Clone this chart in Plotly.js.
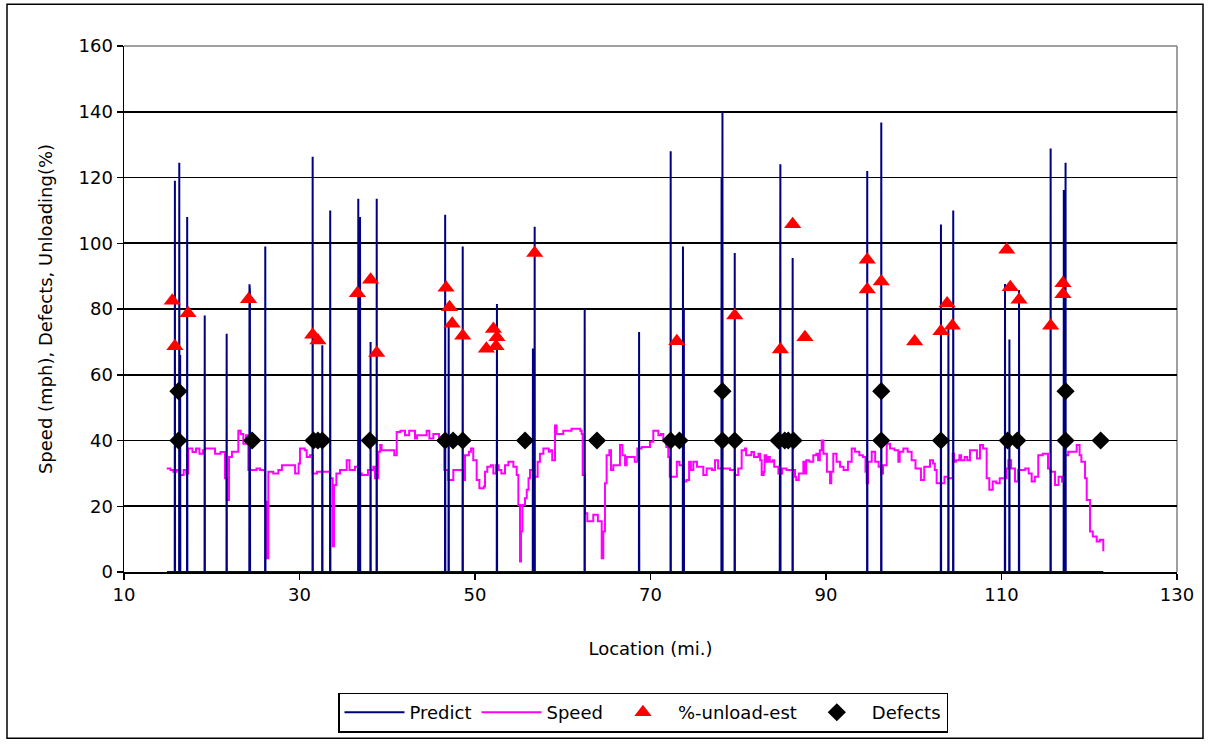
<!DOCTYPE html>
<html>
<head>
<meta charset="utf-8">
<script src="https://cdn.plot.ly/plotly-3.0.1.min.js"></script>
<style>
html,body{margin:0;padding:0;background:#fff;}
#chart{width:1209px;height:744px;}
</style>
</head>
<body>
<div id="chart"></div>
<script>
// ---- Predict spikes (location in miles, predicted value) ----
const predictStart = 14.9;
const predictEnd = 121.6;
const predictLoc = [15.8, 16.3, 16.4, 17.2, 19.2, 21.7, 24.3, 24.35, 26.1, 31.5, 32.6, 33.5, 36.7, 36.9, 38.1, 38.8,
  46.6, 47.0, 48.6, 52.5, 56.6, 56.8, 62.5, 68.7, 72.3, 73.7, 73.8, 78.1, 78.15, 78.2, 79.6, 84.75, 84.8, 86.2,
  94.7, 96.3, 103.1, 103.95, 104.5, 110.4, 110.9, 112.0, 115.6, 117.1, 117.3];
const predictVal = [119, 124.5, 66, 108, 78, 72.5, 87.5, 85.5, 99, 126.3, 69, 110, 113.5, 108, 70, 113.5,
  108.7, 76, 99, 81.5, 68, 105, 80, 73, 128, 99, 80, 120, 100, 140, 97, 90, 124, 95.5,
  122, 136.7, 105.7, 74, 110, 87.6, 70.7, 85.8, 128.8, 116.2, 124.5];

// ---- Speed (mph) along location ----
const speedLoc = [14.87,15.3,15.62,16.0,16.4,16.8,17.1,17.33,17.8,18.2,18.6,19.0,19.23,20.37,21.0,21.51,21.70,21.97,22.3,23.03,
  23.3,23.60,23.9,24.17,24.8,25.1,25.5,26.07,26.26,26.45,27.0,27.59,28.0,29.30,29.5,29.9,30.06,30.6,30.82,31.2,
  31.50,32.0,33.0,33.48,33.78,33.93,34.2,34.62,35.38,35.7,36.32,36.7,37.09,37.8,38.41,38.6,38.98,39.2,39.36,40.80,
  41.08,41.5,42.02,42.5,43.16,43.4,44.49,44.8,45.25,45.9,46.50,46.96,47.53,48.3,48.78,48.86,49.3,49.54,49.8,50.19,
  50.5,51.0,51.14,51.4,51.8,52.09,52.4,52.7,53.0,53.42,53.8,54.37,54.75,54.94,55.13,55.24,55.4,55.70,55.9,56.1,
  56.27,56.6,57.14,57.4,57.79,58.4,58.55,58.8,59.12,59.3,60.06,61.0,62.0,62.16,62.27,62.54,62.8,63.48,64.0,64.24,
  64.44,64.62,64.81,65.0,65.31,65.5,65.76,66.3,66.52,66.8,67.1,67.29,68.0,68.2,68.5,69.0,69.94,70.32,70.9,71.2,
  71.46,71.8,72.03,72.2,72.79,73.0,73.3,73.74,74.1,74.4,74.6,74.88,75.3,75.7,76.02,76.4,77.0,77.35,77.7,78.7,
  79.06,79.63,80.0,80.39,80.77,80.9,81.5,81.8,82.3,82.5,82.67,82.9,83.0,83.2,83.4,83.6,83.9,84.1,84.57,85.0,
  85.5,86.47,86.6,86.9,87.42,87.6,87.75,88.1,88.55,88.9,89.1,89.3,89.51,89.7,90.1,90.46,90.6,90.83,91.2,91.6,
  92.0,92.5,92.93,93.3,93.8,94.2,94.5,94.64,94.8,95.21,95.6,96.0,96.3,96.5,96.92,97.3,97.8,98.24,98.4,98.81,
  99.3,99.76,100.2,100.5,100.82,101.2,101.85,102.2,102.4,102.61,102.99,103.5,103.9,104.44,104.6,104.8,105.2,105.4,105.8,106.1,
  106.41,106.8,107.2,107.55,107.9,108.31,108.61,109.0,109.4,109.8,110.2,110.59,110.78,111.1,111.54,111.9,112.3,112.7,113.1,113.44,
  113.8,114.19,114.7,115.15,115.3,115.6,116.1,116.5,116.9,117.24,117.6,118.2,118.57,118.9,119.1,119.52,119.71,120.09,120.4,120.85,
  121.2,121.6];
const speedVal = [31.5,31,30.5,31,29.5,31,30,37.6,36.5,37.6,36,37,37.6,36,36.5,28.5,21.9,35,36.6,43,
  42,39,41.6,31,31,31.5,31,21.4,4.2,30.5,30,31,32.5,32.5,30,33,37.6,37,35,35.5,
  30,30.5,30.5,28.5,7.8,26.5,30,31,34,31,32,30,29.5,31,32,28.5,36.6,38.6,37,35.5,
  42.6,43,41.6,43,40.6,41.6,43,40.6,42,41,31,28,31,31,28,35.5,36.6,37.6,34,28,
  25.5,26,30.5,32,32.5,30,32.5,31,30,32.5,33.5,32,29.5,20.4,3.2,12.3,20.4,22.4,25,28.5,
  31,29,33.5,36,37.6,36.6,37,34,44.6,42,43,43.6,43,42,29.5,17.9,15.4,17.4,15.4,15.4,
  4.2,12.3,27,35.5,37,31,32.5,32.5,38.6,35.5,32.5,35,35,33.5,37.6,38,39.6,43,41.6,42,
  40,38,35,29,29,33.5,32.5,27.5,28,33.5,31,33.5,32,32,29.5,31.5,31,34,31.5,31.5,
  31,29.5,31.5,37,37.6,35.5,36.5,35,36,34,29.5,30.5,35.5,33.5,35,33.5,34,32,30,31.5,
  31,29,28,30,33.5,30,34,33.5,35.5,36,34,37,40,36,30.5,27,30.5,36,33.5,32,
  31,33.5,37.6,36.6,35.5,35,30.5,27,33.5,36.6,33.5,32,30,32.5,39,37.6,37,33.5,36.6,37.6,
  36.6,34,31.5,31.5,28,32,34,33,31,27,27,29,28.5,36,33.5,34,35.5,34,35,34,
  37,37,34.5,38.6,37.6,28.5,25,27.5,27,28.5,28.5,31.5,34,31.5,27.5,31,31,31.5,30,27.5,
  29,35.5,36,36,31.5,30.5,26.5,29,27.5,35.5,36.6,36.6,38.6,35.5,33.5,28.5,21.9,12.3,10.8,9.3,
  9.8,6.3];

// ---- %-unload-est ----
const unloadLoc = [15.5,15.8,17.3,24.2,31.5,32.1,36.6,38.1,38.8,46.7,47.1,47.4,48.6,51.3,52.1,52.5,52.4,56.8,
  73.0,79.6,84.8,86.2,87.6,94.7,94.7,96.3,100.1,103.1,103.8,104.4,110.6,111.0,112.0,115.6,117.0,117.0];
const unloadVal = [82.5,68.7,78.7,83,72.2,70.4,84.8,88.9,66.6,86.5,80.5,75.5,71.9,67.9,73.9,71.4,68.7,97,
  70.2,78,67.7,105.8,71.4,95,85.9,88.4,70.1,73.2,81.7,74.9,98,86.6,82.8,74.9,87.8,84.5];

// ---- Defects ----
const defectLoc = [16.2,16.2,24.6,31.6,32.1,32.6,38.0,46.6,47.5,48.6,55.7,63.9,72.3,73.3,78.2,78.2,79.6,
  84.6,85.3,85.7,86.3,96.3,96.3,103.1,110.7,111.8,117.3,117.3,121.3];
const defectVal = [55,40,40,40,40,40,40,40,40,40,40,40,40,40,55,40,40,
  40,40,40,40,55,40,40,40,40,55,40,40];

// ---- axis ticks ----
const xTicks = [10,30,50,70,90,110,130];
const yTicks = [0,20,40,60,80,100,120,140,160];

// build predict line: baseline at zero with thin spikes
const px = [predictStart], py = [0];
const eps = 0.02;
for (let i = 0; i < predictLoc.length; i++) {
  px.push(predictLoc[i] - eps, predictLoc[i], predictLoc[i] + eps);
  py.push(0, predictVal[i], 0);
}
px.push(predictEnd); py.push(0);

const FONT = 'DejaVu Sans, Arial, sans-serif';

const traces = [
  {x: speedLoc, y: speedVal, name: 'Speed', type: 'scatter', mode: 'lines',
   line: {color: '#FF00FF', width: 2, shape: 'hv'}, legendrank: 2},
  {x: px, y: py, name: 'Predict', type: 'scatter', mode: 'lines',
   line: {color: '#000080', width: 2}, legendrank: 1},
  {x: unloadLoc, y: unloadVal, name: '%-unload-est', type: 'scatter', mode: 'markers',
   marker: {symbol: 'triangle-up', size: 15, color: '#FF0000'}, legendrank: 3},
  {x: defectLoc, y: defectVal, name: 'Defects', type: 'scatter', mode: 'markers',
   marker: {symbol: 'diamond', size: 14, color: '#000000'}, legendrank: 4}
];

const L = 124, R = 1177, T = 46, B = 574;
const W = R - L, H = B - T;
const fx = p => (p - L) / W;
const fy = p => (B - p) / H;

const layout = {
  width: 1209, height: 744,
  margin: {l: L, r: 1209 - R, t: T, b: 744 - B, pad: 0},
  paper_bgcolor: '#fff', plot_bgcolor: '#fff',
  font: {family: FONT, size: 18, color: '#000'},
  showlegend: true,
  xaxis: {
    range: [10, 130], tickvals: xTicks, ticktext: xTicks.map(String),
    showgrid: false, zeroline: false,
    showline: true, linecolor: '#000', linewidth: 1.5,
    ticks: 'outside', ticklen: 6, tickcolor: '#000', tickwidth: 1.5,
    tickfont: {family: FONT, size: 18, color: '#000'},
    title: {text: 'Location (mi.)', font: {family: FONT, size: 18, color: '#000'}, standoff: 38},
    layer: 'below traces'
  },
  yaxis: {
    range: [0, 160], tickvals: yTicks, ticktext: yTicks.map(String),
    showgrid: true, gridcolor: '#000', gridwidth: 1.8,
    zeroline: false,
    showline: true, linecolor: '#000', linewidth: 1.5,
    ticks: 'outside', ticklen: 6, tickcolor: '#000', tickwidth: 1.5,
    tickfont: {family: FONT, size: 18, color: '#000'},
    title: {text: 'Speed (mph), Defects, Unloading(%)', font: {family: FONT, size: 18, color: '#000'}, standoff: 21},
    layer: 'below traces'
  },
  legend: {
    orientation: 'h', x: fx(338), xanchor: 'left', y: fy(695), yanchor: 'top',
    bgcolor: '#fff', bordercolor: '#000', borderwidth: 1.5,
    font: {family: FONT, size: 18, color: '#000'},
    itemwidth: 60, tracegroupgap: 0
  },
  shapes: [
    {type: 'line', xref: 'paper', yref: 'paper', x0: 0, x1: 1, y0: 1, y1: 1, line: {color: '#808080', width: 1.5}, layer: 'below'},
    {type: 'line', xref: 'paper', yref: 'paper', x0: 1, x1: 1, y0: 0, y1: 1, line: {color: '#808080', width: 1.5}, layer: 'below'},
    {type: 'rect', xref: 'paper', yref: 'paper', x0: fx(7), x1: fx(1203), y0: fy(741), y1: fy(4),
     line: {color: '#000', width: 1.5}, fillcolor: 'rgba(0,0,0,0)', layer: 'below'}
  ]
};

Plotly.newPlot('chart', traces, layout, {displayModeBar: false, staticPlot: true});
</script>
</body>
</html>
